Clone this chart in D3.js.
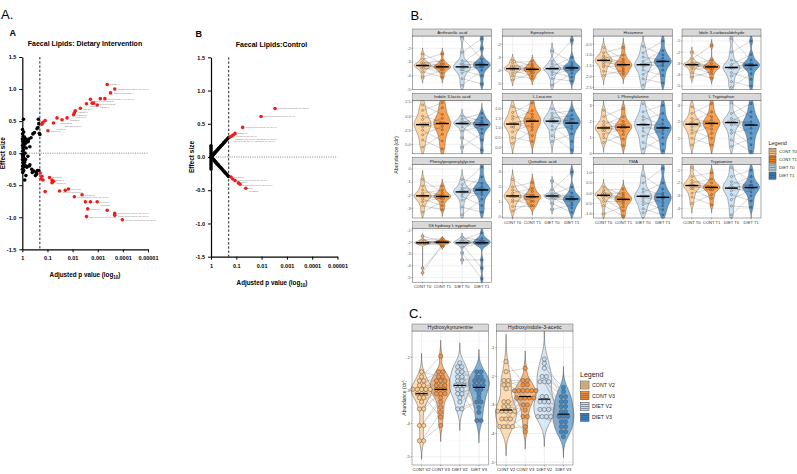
<!DOCTYPE html>
<html><head><meta charset="utf-8">
<script src="https://cdn.jsdelivr.net/npm/d3@7"></script>
<style>body{margin:0;background:#fff}svg{display:block}text{font-family:"Liberation Sans",Arial,sans-serif}</style>
</head><body><script>
// ================= DATA =================
const pTicks = ["1","0.1","0.01","0.001","0.0001","0.00001"];
const effTicks = ["-1.5","-1.0","-0.5","0.0","0.5","1.0","1.5"];
const pCutoff = 0.2;
// Volcano A (dietary intervention): [adjusted p, effect size]
const dietBlack = [[0.98,0.37],[0.97,0.30],[0.99,0.22],[0.96,0.18],[0.98,0.12],[0.95,0.08],[0.97,0.03],[0.99,-0.02],[0.96,-0.06],[0.98,-0.1],[0.95,-0.15],[0.97,-0.2],[0.99,-0.25],[0.96,-0.3],[0.93,0.26],[0.92,0.15],[0.91,0.05],[0.90,-0.04],[0.92,-0.12],[0.9,-0.22],[0.88,0.33],[0.87,0.2],[0.86,0.1],[0.85,-0.08],[0.84,-0.18],[0.88,-0.27],[0.9,0.53],[0.82,0.25],[0.8,0.14],[0.78,0.0],[0.8,-0.14],[0.76,0.19],[0.74,-0.1],[0.72,0.22],[0.7,0.08],[0.68,0.17],[0.7,-0.2],[0.66,-0.22],[0.72,-0.35],[0.62,0.2],[0.6,-0.05],[0.58,0.18],[0.55,0.22],[0.52,-0.2],[0.5,-0.18],[0.5,0.1],[0.45,0.24],[0.42,-0.25],[0.4,-0.3],[0.8,-0.42],[0.38,0.3],[0.35,-0.28],[0.33,0.32],[0.3,-0.35],[0.28,-0.3],[0.26,0.38],[0.25,-0.27],[0.23,0.53],[0.22,0.46],[0.22,-0.27],[0.21,0.31],[0.2,0.29],[0.24,0.4],[0.27,-0.33]];
const dietRed = [[4.2e-4,1.07,"PE(37:4)"],[2.1e-4,1.00,"TG(16:0/18:1/20:4) [M+NH4]+"],[3.1e-4,0.94,"TG(18:1/18:2/20:4)"],[7.9e-4,0.85,"TG(18:0/18:1/20:4) [M+NH4]+"],[5.2e-4,0.85,""],[1.95e-3,0.84,"TG(16:0/18:1/18:2)"],[1.66e-3,0.78,"TG(18:1/18:1/18:2)"],[1.45e-3,0.78,""],[1.05e-3,0.75,"PE(36:4)"],[2.8e-3,0.77,"PC(38:4)"],[4.9e-3,0.70,"PC(36:4)"],[7.8e-3,0.66,"PE(38:4)"],[8.5e-3,0.63,"PE(38:6)"],[9.1e-3,0.60,"PC(40:6)"],[0.0166,0.55,"PC(38:5)"],[0.0417,0.55,"PE-O(38:5)"],[0.0263,0.52,"SM(d18:1/16:0)"],[0.0575,0.47,"PC(34:1)"],[0.151,0.48,""],[0.123,0.51,""],[0.166,0.45,""],[0.0955,0.35,"PC(34:2)"],
 [0.195,-0.31,""],[0.166,-0.36,""],[0.151,-0.42,""],[0.182,-0.40,""],[0.083,-0.38,"PC(35:2)"],[0.066,-0.42,"PE(34:1)"],[0.0575,-0.44,"PC(36:1)"],[0.066,-0.46,""],[0.123,-0.60,""],[0.033,-0.59,"TG(16:0/16:0/18:1)"],[0.0195,-0.58,""],[0.0145,-0.56,"TG(48:1)"],[8.5e-3,-0.68,"TG(16:0/18:1/18:1) [M+NH4]+"],[4.2e-3,-0.65,"TG(50:2)"],[3.1e-3,-0.76,"TG(16:0/18:0/18:1)"],[1.95e-3,-0.76,""],[1.05e-3,-0.76,"TG(52:2)"],[2.5e-3,-0.87,"TG(54:2)"],[4.2e-4,-0.89,""],[2.1e-4,-0.94,"TG(16:0/18:1/18:1) [M+NH4]+"],[2.1e-4,-0.97,"TG(16:0/16:0/18:0) [M+NH4]+"],[2.8e-3,-0.99,"DG(16:0/18:1) [M+NH4]+"],[1.05e-4,-1.04,"TG(18:0/18:1/18:1) [M+NH4]+"]];
// Volcano B (control)
const ctrlBlack = [[1,-0.18],[1,-0.15],[1,-0.12],[1,-0.09],[1,-0.06],[1,-0.03],[1,0.0],[1,0.03],[1,0.06],[1,0.09],[1,0.12],[1,0.15],[1,0.17],
 [0.98,0.004],[0.95,0.01],[0.92,0.015],[0.89,0.021],[0.86,0.027],[0.83,0.034],[0.8,0.041],[0.77,0.048],[0.74,0.055],[0.71,0.062],[0.68,0.07],[0.65,0.079],[0.62,0.087],[0.59,0.096],[0.56,0.106],[0.53,0.116],[0.5,0.126],[0.47,0.138],[0.44,0.15],[0.41,0.163],[0.38,0.176],[0.35,0.191],[0.32,0.208],[0.3,0.22],[0.28,0.232],[0.26,0.246],[0.24,0.26],[0.22,0.276],[0.2,0.294],
 [0.97,-0.006],[0.94,-0.012],[0.91,-0.018],[0.88,-0.024],[0.85,-0.03],[0.82,-0.036],[0.79,-0.043],[0.76,-0.05],[0.73,-0.057],[0.7,-0.065],[0.67,-0.073],[0.64,-0.081],[0.61,-0.09],[0.58,-0.1],[0.55,-0.109],[0.52,-0.119],[0.49,-0.13],[0.46,-0.142],[0.43,-0.154],[0.4,-0.167],[0.37,-0.181],[0.34,-0.197],[0.31,-0.214],[0.29,-0.226],[0.27,-0.239],[0.25,-0.253],[0.23,-0.268],[0.21,-0.285],[0.2,-0.294]];
const ctrlRed = [[2.95e-3,0.73,"TG(16:0/18:1/18:2) [M+NH4]+"],[0.0105,0.61,"TG(18:1/18:1/18:2) [M+NH4]+"],[0.056,0.445,"TG(16:0/18:1/18:1) [M+NH4]+"],[0.112,0.355,"PE(34:1)"],[0.132,0.33,"TG(50:1) [M+NH4]+"],[0.151,0.315,"TG(52:1) [M+NH4]+ TG(50:2) [M+NH4]+"],[0.178,0.30,"TG(48:0) [M+NH4]+ TG(50:3) [M+NH4]+"],
 [0.162,-0.30,"PC(36:2)"],[0.138,-0.33,"TG(16:0/18:1/18:1) [M+NH4]+"],[0.112,-0.355,"PE(36:2)"],[0.083,-0.39,"TG(18:1/18:1/18:1) [M+NH4]+"],[0.071,-0.41,"PC(34:1)"],[0.042,-0.47,"PC(35:2)"]];

// Panel B violins
const groupsB = ["CONT T0","CONT T1","DIET T0","DIET T1"];
const pairB = [2,0,4,1,6,3,8,5,10,7,11,9];
const anthranilic = [[-2.4,-2.8,-3.0,-3.1,-3.2,-3.25,-3.25,-3.3,-3.4,-3.5,-3.7,-4.1],[-2.4,-2.9,-3.1,-3.2,-3.3,-3.35,-3.35,-3.4,-3.5,-3.6,-3.8,-4.1],[-1.2,-2.3,-2.9,-3.1,-3.2,-3.3,-3.4,-3.5,-3.6,-3.8,-4.2,-4.7],[-1.3,-2.0,-2.8,-3.0,-3.1,-3.2,-3.2,-3.3,-3.4,-3.6,-4.0,-4.6]];
const epinephrine = [[-3.2,-3.4,-3.6,-3.7,-3.8,-3.85,-3.85,-3.9,-4.0,-4.2,-4.4,-4.7],[-3.3,-3.5,-3.65,-3.75,-3.85,-3.9,-3.9,-4.0,-4.1,-4.2,-4.4,-4.6],[-2.5,-3.3,-3.5,-3.7,-3.8,-3.85,-3.85,-3.95,-4.1,-4.3,-4.6,-5.1],[-1.7,-3.0,-3.4,-3.6,-3.7,-3.8,-3.8,-3.9,-4.0,-4.2,-4.5,-4.8]];
const histamine = [[-0.65,-0.9,-1.05,-1.15,-1.2,-1.25,-1.25,-1.35,-1.45,-1.55,-1.75,-1.95],[-0.65,-1.0,-1.2,-1.3,-1.4,-1.45,-1.45,-1.5,-1.6,-1.7,-1.8,-1.9],[-0.6,-0.9,-1.1,-1.3,-1.4,-1.45,-1.45,-1.55,-1.7,-1.9,-2.1,-2.4],[-0.35,-0.8,-1.0,-1.15,-1.25,-1.3,-1.3,-1.4,-1.5,-1.7,-1.95,-2.3]];
const indoleCarbox = [[-2.0,-2.6,-2.85,-3.0,-3.05,-3.1,-3.1,-3.2,-3.3,-3.5,-3.8,-4.2],[-1.4,-2.7,-3.0,-3.15,-3.25,-3.3,-3.3,-3.4,-3.5,-3.7,-3.9,-4.3],[-0.8,-2.0,-2.7,-3.1,-3.3,-3.35,-3.35,-3.5,-3.8,-4.1,-4.6,-5.1],[-1.0,-2.2,-2.7,-2.95,-3.1,-3.15,-3.15,-3.3,-3.5,-3.9,-4.4,-5.0]];
const indoleLactic = [[2.0,1.0,0.0,-0.6,-1.2,-1.5,-1.5,-1.9,-2.5,-3.3,-4.2,-5.5],[2.4,1.5,0.3,-0.4,-1.0,-1.3,-1.3,-1.8,-2.4,-3.2,-4.4,-5.8],[0.0,-0.5,-0.9,-1.1,-1.2,-1.3,-1.3,-1.5,-1.9,-2.6,-3.8,-5.5],[0.5,-0.3,-0.8,-1.1,-1.3,-1.5,-1.5,-1.8,-2.3,-3.0,-4.2,-6.0]];
const leucine = [[2.1,1.8,1.6,1.45,1.3,1.2,1.2,1.1,1.0,0.8,0.5,0.2],[2.3,1.9,1.7,1.55,1.45,1.35,1.35,1.2,1.05,0.9,0.6,0.3],[2.0,1.75,1.6,1.5,1.4,1.35,1.35,1.25,1.1,0.9,0.6,0.3],[1.9,1.65,1.5,1.4,1.3,1.25,1.25,1.1,0.95,0.7,0.3,-0.15]];
const phenylalanine = [[2.7,2.3,2.0,1.8,1.7,1.6,1.6,1.5,1.4,1.2,1.0,0.7],[2.8,2.3,2.0,1.85,1.75,1.65,1.65,1.55,1.4,1.2,0.9,0.5],[3.1,2.6,2.3,2.1,1.9,1.8,1.8,1.6,1.4,1.1,0.7,0.3],[3.0,2.5,2.1,1.85,1.7,1.6,1.6,1.45,1.25,1.0,0.6,0.2]];
const tryptophan = [[2.9,2.5,2.2,2.0,1.9,1.85,1.85,1.7,1.5,1.3,1.0,0.6],[3.1,2.6,2.3,2.1,1.95,1.9,1.9,1.75,1.55,1.3,1.0,0.6],[3.15,2.5,2.2,2.05,2.0,1.95,1.95,1.8,1.5,1.3,0.9,0.5],[3.1,2.6,2.3,2.0,1.85,1.8,1.8,1.6,1.3,1.0,0.6,0.2]];
const phenylpropionylglycine = [[-0.8,-1.3,-1.6,-1.85,-2.0,-2.05,-2.05,-2.15,-2.3,-2.5,-2.8,-3.3],[-1.3,-1.6,-1.8,-1.95,-2.05,-2.1,-2.1,-2.2,-2.3,-2.5,-2.8,-3.1],[-0.8,-1.2,-1.45,-1.6,-1.7,-1.75,-1.75,-1.9,-2.1,-2.4,-2.9,-3.5],[0.15,-0.6,-1.1,-1.35,-1.5,-1.6,-1.6,-1.75,-1.95,-2.3,-2.8,-3.3]];
const quinolinic = [[2.5,2.0,1.8,1.6,1.45,1.4,1.4,1.3,1.15,1.0,0.7,0.4],[2.3,1.9,1.7,1.5,1.4,1.35,1.35,1.25,1.1,1.0,0.8,0.7],[2.4,1.8,1.6,1.5,1.45,1.4,1.4,1.35,1.3,1.2,0.9,0.5],[3.0,2.0,1.6,1.4,1.3,1.2,1.2,1.1,0.95,0.8,0.6,0.3]];
const tma = [[0.3,0.15,0.05,0.0,-0.05,-0.1,-0.1,-0.15,-0.25,-0.4,-0.6,-1.0],[0.2,0.0,-0.1,-0.2,-0.25,-0.3,-0.3,-0.4,-0.5,-0.65,-0.85,-1.1],[0.85,0.5,0.2,0.05,-0.1,-0.15,-0.15,-0.25,-0.4,-0.55,-0.75,-0.95],[1.2,0.5,0.2,0.0,-0.1,-0.2,-0.2,-0.3,-0.45,-0.6,-0.8,-1.05]];
const tryptamine = [[-0.8,-1.5,-1.8,-2.0,-2.15,-2.2,-2.2,-2.35,-2.5,-2.8,-3.1,-3.6],[-1.2,-1.7,-2.0,-2.2,-2.3,-2.35,-2.35,-2.45,-2.6,-2.9,-3.2,-3.7],[-0.8,-1.5,-1.9,-2.15,-2.3,-2.4,-2.4,-2.6,-2.9,-3.3,-3.8,-4.5],[-1.0,-1.5,-1.9,-2.1,-2.25,-2.35,-2.35,-2.5,-2.7,-3.0,-3.4,-3.9]];
const hydroxyTryptophan = [[-1.5,-1.8,-1.9,-2.0,-2.0,-2.05,-2.05,-2.1,-2.15,-2.2,-4.2,-4.6],[-1.7,-1.85,-1.9,-1.95,-2.0,-2.0,-2.0,-2.05,-2.1,-2.15,-2.25,-2.4],[-1.6,-1.8,-1.9,-1.95,-2.0,-2.05,-2.05,-2.1,-2.2,-2.4,-2.9,-3.5],[-1.2,-1.7,-1.85,-1.95,-2.0,-2.05,-2.05,-2.1,-2.2,-3.5,-4.2,-5.1]];
const namesB = ["Anthranilic acid","Epinephrine","Histamine","Idole 3-carboxaldehyde","Indole 3-lactic acid","L Leucine","L Phenylalanine","L Tryptophan","Phenylpropionylglycine","Quinolinic acid","TMA","Tryptamine","5S hydroxy L tryptophan"];
const valuesB = [anthranilic,epinephrine,histamine,indoleCarbox,indoleLactic,leucine,phenylalanine,tryptophan,phenylpropionylglycine,quinolinic,tma,tryptamine,hydroxyTryptophan];
const rangesB = [[-5.0,-1.1],[-5.43,-1.38],[-2.6,-0.12],[-5.3,-0.56],[-6.65,2.8],[-0.34,2.43],[0,3.31],[0.06,3.3],[-3.74,0.34],[-0.07,3.5],[-1.2,1.39],[-4.73,-0.56],[-5.39,-0.86]];
const ticksB = [["-2","-3","-4","-5"],["-2","-3","-4","-5"],["-0.5","-1.0","-1.5","-2.0","-2.5"],["-1","-2","-3","-4","-5"],["2.5","0.0","-2.5","-5.0"],["2.0","1.5","1.0","0.5","0.0"],["3","2","1","0"],["3","2","1"],["0","-1","-2","-3"],["3","2","1","0"],["1.0","0.5","0.0","-0.5","-1.0"],["-1","-2","-3","-4"],["-1","-2","-3","-4","-5"]];

// Panel C
const groupsC = ["CONT V2","CONT V3","DIET V2","DIET V3"];
const hydroxykynurenine = [
 [-2.44,-2.59,-2.71,-2.71,-2.85,-2.85,-2.97,-2.97,-2.97,-2.97,-2.97,-3.10,-3.10,-3.10,-3.22,-3.22,-3.35,-3.51,-3.61,-4.06,-4.06,-4.52,-4.52],
 [-1.97,-2.44,-2.44,-2.59,-2.59,-2.71,-2.71,-2.71,-2.85,-2.85,-2.97,-2.97,-2.97,-3.10,-3.10,-3.10,-3.22,-3.35,-3.51,-3.66,-3.81,-4.06,-2.85],
 [-2.17,-2.29,-2.44,-2.44,-2.59,-2.59,-2.71,-2.71,-2.85,-2.85,-2.85,-2.97,-2.97,-3.10,-3.10,-3.22,-3.35,-3.51,-3.61,-2.29],
 [-2.44,-2.44,-3.22,-2.59,-2.59,-3.66,-2.71,-2.71,-2.71,-2.85,-2.85,-2.85,-2.97,-2.97,-3.10,-3.35,-3.35,-3.51,-3.91,-3.91]];
const hydroxyindoleAcetic = [
 [-1.49,-1.84,-2.15,-2.15,-2.30,-2.30,-2.44,-2.89,-2.89,-3.06,-3.06,-3.18,-3.18,-3.18,-3.29,-3.29,-3.41,-3.53,-3.53,-3.70,-3.70,-3.82,-3.82],
 [-1.72,-2.15,-2.15,-2.30,-2.30,-2.44,-2.44,-2.44,-2.57,-2.57,-2.57,-2.71,-2.71,-2.71,-2.83,-2.83,-3.00,-3.00,-3.18,-3.41,-3.41,-3.76,-3.94],
 [-1.40,-1.55,-1.72,-2.01,-2.01,-2.19,-2.19,-2.19,-3.24,-2.71,-2.89,-2.89,-2.89,-3.12,-3.35,-3.35,-3.47,-3.47,-2.71,-3.12],
 [-2.39,-2.54,-2.71,-2.71,-2.89,-2.89,-3.06,-3.06,-3.24,-3.24,-3.41,-3.41,-3.41,-3.59,-3.59,-3.76,-3.76,-3.94,-3.94,-4.11]];
const namesC = ["Hydroxykynurenine","Hydroxyindole-3-acetic"];
const valuesC = [hydroxykynurenine, hydroxyindoleAcetic];
const rangesC = [[-5.25,-1.21],[-5.1,-0.42]];
const ticksC = [["-2","-3","-4","-5"],["-1","-2","-3","-4","-5"]];
const pairC23 = [3,0,6,1,9,2,12,4,15,5,18,7,20,8,22,10,11,13,14,16,17,19,21];
const pairC20 = [2,5,0,8,1,11,3,14,4,17,6,19,7,9,10,12,13,15,16,18];

// ================= DRAWING =================
const svg = d3.select('body').append('svg').attr('width',797).attr('height',474);
const FONT = '"Liberation Sans", Arial, sans-serif';
const colB = ['#FDCB8E','#F58A2A','#C3DBEE','#3C84C2'];
const colC = ['#FDCB8E','#F7903A','#C6DDF0','#3E87C4'];

function txt(x,y,s,size,opts={}){
  const t = svg.append('text').attr('x',x).attr('y',y).attr('font-size',size).attr('fill',opts.fill||'#000')
    .attr('font-weight',opts.bold?'bold':'normal').attr('text-anchor',opts.anchor||'start').text(s);
  if(opts.rotate) t.attr('transform',`rotate(-90,${x},${y})`);
  return t;
}

// simple vertical dodge so tiny point labels do not sit on top of each other
function dodgeLabels(items, fs){
  const placed = [];
  items.sort((a,b)=>a.y-b.y).forEach(it=>{
    const w = it.s.length*fs*0.5;
    let guard = 0;
    while(guard++<60 && placed.some(p=>Math.abs(p.y-it.y)<fs*1.05 && it.x < p.x+p.w && p.x < it.x+w)) it.y += 0.4;
    it.w = w; placed.push(it);
  });
  return placed;
}

function volcano(cfg){
  const g = svg.append('g');
  const x = d3.scaleLog().domain([1,1e-5]).range([cfg.x0,cfg.x1]);
  const y = d3.scaleLinear().domain([-1.5,1.5]).range([cfg.yb,cfg.yt]);
  g.append('line').attr('x1',x(1)).attr('x2',x(1e-5)).attr('y1',y(0)).attr('y2',y(0))
    .attr('stroke','#333').attr('stroke-width',0.6).attr('stroke-dasharray','1,1.3');
  g.append('line').attr('x1',x(pCutoff)).attr('x2',x(pCutoff)).attr('y1',y(1.5)).attr('y2',y(-1.5))
    .attr('stroke','#111').attr('stroke-width',0.9).attr('stroke-dasharray','2.4,1.8');
  const fs = 2.4;
  const labs = dodgeLabels(cfg.red.filter(d=>d[2]).map(d=>({x:x(d[0])+3, y:y(d[1])+0.9, s:d[2]})), fs);
  g.selectAll('text.lab').data(labs).join('text').attr('class','lab')
    .attr('x',d=>d.x).attr('y',d=>d.y).attr('font-size',fs).attr('fill','#777').text(d=>d.s);
  g.selectAll('circle.bk').data(cfg.black).join('circle').attr('class','bk')
    .attr('cx',d=>x(d[0])).attr('cy',d=>y(d[1])).attr('r',1.8).attr('fill','#000');
  g.selectAll('circle.rd').data(cfg.red).join('circle').attr('class','rd')
    .attr('cx',d=>x(d[0])).attr('cy',d=>y(d[1])).attr('r',1.8).attr('fill','#EE1C1C');
  const pv = pTicks.map(Number);
  const xa = g.append('g').attr('transform',`translate(0,${cfg.yb})`)
    .call(d3.axisBottom(x).tickValues(pv).tickFormat(d=>pTicks[pv.indexOf(d)]).tickSize(3).tickSizeOuter(0));
  const ev = effTicks.map(Number);
  const ya = g.append('g').attr('transform',`translate(${cfg.x0},0)`)
    .call(d3.axisLeft(y).tickValues(ev).tickFormat(d=>effTicks[ev.indexOf(d)]).tickSize(3).tickSizeOuter(0));
  [xa,ya].forEach(a=>{
    a.select('.domain').attr('stroke-width',1.2);
    a.selectAll('.tick line').attr('stroke-width',1);
    a.selectAll('text').attr('font-size',5.5).attr('font-weight','bold').attr('font-family',FONT).attr('fill','#000');
  });
  xa.selectAll('text').attr('dy','0.9em');
  txt(cfg.titleX, cfg.titleY, cfg.title, 7, {bold:true, anchor:'middle'});
  txt(cfg.x0-17, (cfg.yt+cfg.yb)/2, 'Effect size', 6.5, {bold:true, anchor:'middle', rotate:true});
  const xl = txt(cfg.xlabX, cfg.yb+28, 'Adjusted p value (log', 6.3, {bold:true, anchor:'middle'});
  xl.append('tspan').attr('font-size',4.5).attr('dy',1.8).text('10');
  xl.append('tspan').attr('dy',-1.8).text(')');
  txt(cfg.letterX, cfg.letterY, cfg.letter, 9, {bold:true});
}

volcano({x0:22.3,x1:148,yb:249.3,yt:57,black:dietBlack,red:dietRed,title:'Faecal Lipids: Dietary Intervention',
  titleX:85,titleY:45.5,xlabX:85,letter:'A',letterX:9.5,letterY:35.5});
volcano({x0:211,x1:337.5,yb:256.7,yt:57.3,black:ctrlBlack,red:ctrlRed,title:'Faecal Lipids:Control',
  titleX:271.5,titleY:46.5,xlabX:272,letter:'B',letterX:195.5,letterY:37});

// ---- violin helpers
function kde(vals, lo, hi){
  const s = vals.slice().sort(d3.ascending), n = s.length;
  const sd = d3.deviation(s), iqr = d3.quantile(s,0.75)-d3.quantile(s,0.25);
  let h = 0.9*Math.min(sd, iqr/1.34)*Math.pow(n,-0.2);
  if(!(h>0)) h = 0.9*sd*Math.pow(n,-0.2);
  const a = Math.max(lo, s[0]-3*h), b = Math.min(hi, s[n-1]+3*h);
  return d3.range(61).map(i=>{const t=a+(b-a)*i/60;
    return [t, d3.sum(s, v=>Math.exp(-0.5*((t-v)/h)**2))/(n*h)];});
}
function dotBins(vals, bw){
  const s = vals.slice().sort(d3.ascending), bins=[]; let cur=null;
  for(const v of s){ if(cur && v-cur.start < bw) cur.vals.push(v); else {cur={start:v,vals:[v]}; bins.push(cur);} }
  return bins.map(b=>({y:d3.mean(b.vals), n:b.vals.length}));
}

function facet(name, vals, range, ticks, box, groups, o){
  const g = svg.append('g');
  const x = d3.scalePoint().domain(groups).range([box.x, box.x+box.w]).padding(0.5);
  const y = d3.scaleLinear().domain(range).range([box.py+box.ph, box.py]);
  g.append('rect').attr('x',box.x).attr('y',box.py).attr('width',box.w).attr('height',box.ph).attr('fill','#fff');
  const tv = ticks.map(Number);
  const step = Math.abs(tv[1]-tv[0]);
  const minor = [];
  tv.forEach(t=>{[t-step/2,t+step/2].forEach(m=>{ if(m>range[0]&&m<range[1]&&!minor.some(q=>Math.abs(q-m)<1e-9)) minor.push(m);});});
  g.selectAll('line.mn').data(minor).join('line').attr('x1',box.x).attr('x2',box.x+box.w)
    .attr('y1',d=>y(d)).attr('y2',d=>y(d)).attr('stroke','#f2f2f2').attr('stroke-width',0.4);
  g.selectAll('line.mj').data(tv).join('line').attr('x1',box.x).attr('x2',box.x+box.w)
    .attr('y1',d=>y(d)).attr('y2',d=>y(d)).attr('stroke','#e6e6e6').attr('stroke-width',0.6);
  g.selectAll('line.vx').data(groups).join('line').attr('x1',d=>x(d)).attr('x2',d=>x(d))
    .attr('y1',box.py).attr('y2',box.py+box.ph).attr('stroke','#e6e6e6').attr('stroke-width',0.6);
  vals.forEach((v,i)=>{
    const dens = kde(v, range[0], range[1]);
    const md = d3.max(dens, d=>d[1]);
    const cx = x(groups[i]);
    const area = d3.area().curve(d3.curveBasis).y(d=>y(d[0]))
      .x0(d=>cx - d[1]/md*o.half).x1(d=>cx + d[1]/md*o.half);
    g.append('path').attr('d',area(dens)).attr('fill',o.col[i]).attr('fill-opacity',o.vop)
      .attr('stroke','#333').attr('stroke-width',o.vsw);
  });
  [[0,1],[2,3]].forEach(([a,b])=>{
    const va = vals[a], vb = vals[b];
    const perm = o.pairs(va.length);
    va.forEach((val,k)=>{
      const j = perm[k];
      if(j>=vb.length) return;
      g.append('line').attr('x1',x(groups[a])).attr('x2',x(groups[b])).attr('y1',y(val)).attr('y2',y(vb[j]))
        .attr('stroke',o.lcol).attr('stroke-width',o.lw).attr('stroke-opacity',o.lop);
    });
  });
  const ppu = Math.abs(y(1)-y(0));
  vals.forEach((v,i)=>{
    const cx = x(groups[i]);
    const bins = dotBins(v, o.r*2*0.92/ppu);
    bins.forEach(b=>{
      for(let j=0;j<b.n;j++){
        g.append('circle').attr('cx',cx+(j-(b.n-1)/2)*o.r*2).attr('cy',y(b.y)).attr('r',o.r)
          .attr('fill',o.col[i]).attr('stroke',o.dstroke).attr('stroke-width',o.dsw);
      }
    });
  });
  vals.forEach((v,i)=>{
    const cx = x(groups[i]), m = d3.median(v);
    g.append('line').attr('x1',cx-o.mhalf).attr('x2',cx+o.mhalf).attr('y1',y(m)).attr('y2',y(m))
      .attr('stroke','#000').attr('stroke-width',o.msw);
  });
  g.append('rect').attr('x',box.x).attr('y',box.py).attr('width',box.w).attr('height',box.ph)
    .attr('fill','none').attr('stroke',o.border).attr('stroke-width',0.5);
  g.append('rect').attr('x',box.x).attr('y',box.sy).attr('width',box.w).attr('height',box.py-box.sy)
    .attr('fill','#d9d9d9').attr('stroke','#444').attr('stroke-width',0.4);
  g.append('text').attr('x',box.x+box.w/2).attr('y',(box.sy+box.py)/2+o.stripFs*0.35).attr('text-anchor','middle')
    .attr('font-size',o.stripFs).attr('fill','#1a1a1a').text(name);
  tv.forEach((t,k)=>{
    g.append('line').attr('x1',box.x-1.3).attr('x2',box.x).attr('y1',y(t)).attr('y2',y(t)).attr('stroke','#333').attr('stroke-width',0.4);
    g.append('text').attr('x',box.x-2).attr('y',y(t)+o.tickFs*0.35).attr('text-anchor','end')
      .attr('font-size',o.tickFs).attr('fill','#4d4d4d').text(ticks[k]);
  });
  if(o.showX){
    groups.forEach(gr=>{
      g.append('line').attr('x1',x(gr)).attr('x2',x(gr)).attr('y1',box.py+box.ph).attr('y2',box.py+box.ph+1.3).attr('stroke','#333').attr('stroke-width',0.4);
      g.append('text').attr('x',x(gr)).attr('y',box.py+box.ph+o.xlabDy).attr('text-anchor','middle')
        .attr('font-size',o.xFs).attr('fill',o.xFill).text(gr);
    });
  }
}

// Panel B grid
const colX = [412.7, 502.7, 593.7, 682];
const rowY = [29, 93.3, 157.5, 221.7];
namesB.forEach((nm,i)=>{
  const c = i%4, r = Math.floor(i/4);
  const box = {x:colX[c], w:79, sy:rowY[r], py:rowY[r]+7, ph:53.5};
  const showX = (i===12) || (i>=9 && i<=11);
  facet(nm, valuesB[i], rangesB[i], ticksB[i], box, groupsB, {
    half:8.5, col:colB, vop:0.8, vsw:0.35, pairs:()=>pairB, lcol:'#333', lw:0.3, lop:0.65,
    r:1.05, dstroke:'#222', dsw:0.3, mhalf:6.5, msw:1.4, border:'#555', stripFs:4.4, tickFs:3.9,
    showX, xlabDy:5.5, xFs:4.1, xFill:'#333'});
});
txt(398, 155, 'Abundance (clr)', 5.3, {anchor:'middle', rotate:true, fill:'#222'});
txt(768.5, 145, 'Legend', 5.5, {fill:'#222'});
function legendKey(x0,yc,w,h,col,label,fs){
  svg.append('rect').attr('x',x0).attr('y',yc-h/2).attr('width',w).attr('height',h).attr('fill',col).attr('stroke','#333').attr('stroke-width',0.5);
  [0.25,0.5,0.75].forEach(f=>svg.append('line').attr('x1',x0+0.6).attr('x2',x0+w-0.6).attr('y1',yc-h/2+h*f).attr('y2',yc-h/2+h*f).attr('stroke','#333').attr('stroke-width',0.45));
  txt(x0+w+3, yc+fs*0.35, label, fs, {fill:'#222'});
}
[151.7,159.6,167.5,175.7].forEach((yc,i)=>legendKey(769,yc,7,7,colB[i],groupsB[i],4.2));

// Panel C
const colCX = [412, 496.5];
namesC.forEach((nm,i)=>{
  const box = {x:colCX[i], w:76.5, sy:324, py:331, ph:134};
  facet(nm, valuesC[i], rangesC[i], ticksC[i], box, groupsC, {
    half:10.5, col:colC, vop:0.65, vsw:0.4, pairs:n=>n===23?pairC23:pairC20, lcol:'#9a9a9a', lw:0.5, lop:0.8,
    r:2.15, dstroke:'#555', dsw:0.5, mhalf:6, msw:1.2, border:'#666', stripFs:5.3, tickFs:4.3,
    showX:true, xlabDy:6.3, xFs:4.2, xFill:'#222'});
});
txt(405.5, 398, 'Abundance (clr)', 5, {anchor:'middle', rotate:true, fill:'#333'});
txt(580, 377, 'Legend', 7, {fill:'#222'});
[385,395.7,406.5,417.3].forEach((yc,i)=>legendKey(580.5,yc,8.5,8,colC[i],groupsC[i],5.3));

txt(1, 18.5, 'A.', 13);
txt(410.5, 20, 'B.', 13);
txt(409, 318, 'C.', 13);
</script></body></html>
